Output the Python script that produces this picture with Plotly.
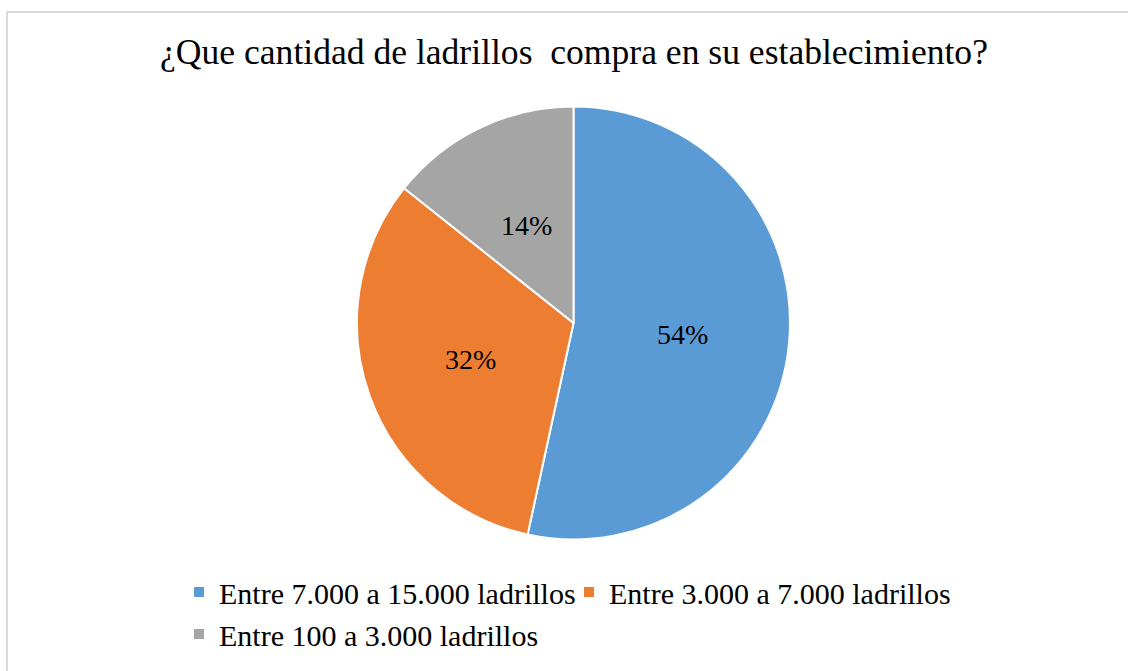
import math
import plotly.graph_objects as go

categories = ["Entre 7.000 a 15.000 ladrillos", "Entre 3.000 a 7.000 ladrillos", "Entre 100 a 3.000 ladrillos"]
values = [53.4, 32.3, 14.3]          # slice sizes as drawn
label_texts = ["54%", "32%", "14%"]  # data labels as printed on the chart
colors = ["#5B9BD5", "#ED7D31", "#A5A5A5"]
title_text = "¿Que cantidad de ladrillos  compra en su establecimiento?"

W, H = 1128, 671
FONT = "Liberation Serif"

# pie geometry (pixels)
CX, CY, R = 573.5, 323.0, 216.5
dom_x = [(CX - R) / W, (CX + R) / W]
dom_y = [(H - CY - R) / H, (H - CY + R) / H]

fig = go.Figure(go.Pie(
    labels=categories,
    values=values,
    sort=False,
    direction="clockwise",
    rotation=0,
    marker=dict(colors=colors, line=dict(color="white", width=2)),
    textinfo="none",
    domain=dict(x=dom_x, y=dom_y),
    hoverinfo="label+percent",
))

# data labels at mid-angle of each slice, half radius
total = sum(values)
annotations = []
cum = 0.0
for v, t in zip(values, label_texts):
    mid = (cum + v / 2) / total * 2 * math.pi
    cum += v
    px = CX + 0.505 * R * math.sin(mid)
    py = CY - 0.5 * R * math.cos(mid)
    annotations.append(dict(
        x=px / W, y=1 - py / H, xref="paper", yref="paper",
        text=t, showarrow=False,
        xanchor="center", yanchor="middle",
        font=dict(family=FONT, size=28, color="#000000"),
    ))

fig.update_layout(
    width=W, height=H,
    margin=dict(l=0, r=0, t=0, b=0),
    paper_bgcolor="white",
    plot_bgcolor="white",
    font=dict(family=FONT, color="#000000"),
    title=dict(text=title_text, x=574 / W, xanchor="center", y=1 - 52 / H, yanchor="middle",
               font=dict(family=FONT, size=35.6, color="#000000")),
    showlegend=True,
    legend=dict(orientation="h", x=179 / W, xanchor="left", y=1 - 566 / H, yanchor="top",
                font=dict(family=FONT, size=30, color="#000000"),
                entrywidth=345, bgcolor="rgba(0,0,0,0)", borderwidth=0),
    annotations=annotations,
    shapes=[dict(type="rect", xref="paper", yref="paper",
                 x0=7 / W, x1=1.02, y0=-0.02, y1=1 - 12 / H,
                 line=dict(color="#D9D9D9", width=2), fillcolor="rgba(0,0,0,0)", layer="below")],
)

fig.write_html("out.html", config={"displayModeBar": False},
               post_script="document.body.style.margin='0';document.body.style.overflow='hidden';")
